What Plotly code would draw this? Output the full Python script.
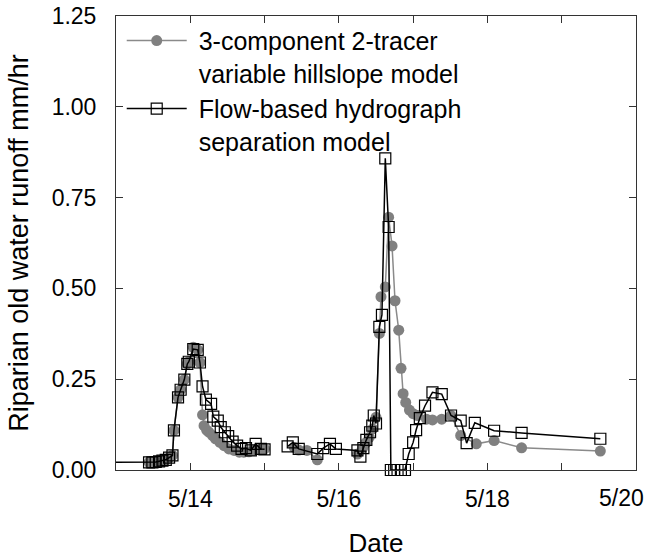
import plotly.graph_objects as go

# Day of May (fractional) and runoff (mm/hr)
hill_x = [13.445, 13.49, 13.535, 13.58, 13.625, 13.67, 13.715, 13.76,
          13.78, 13.835, 13.87, 13.92, 13.96, 13.98, 14.04, 14.10, 14.13,
          14.165, 14.185, 14.22, 14.25, 14.30, 14.34, 14.40, 14.455, 14.52,
          14.59, 14.66, 14.72, 14.79, 14.86, 14.92, 15.00,
          15.20,
          15.40, 15.46, 15.57, 15.71,
          16.00,
          16.25, 16.32, 16.365, 16.41, 16.455, 16.50,
          16.545, 16.567, 16.625, 16.67, 16.716, 16.756, 16.806, 16.837,
          16.865, 16.90, 16.95, 17.00, 17.06, 17.18, 17.26, 17.385,
          17.51, 17.64, 17.85, 18.09, 18.46, 19.52]
hill_y = [0.021, 0.021, 0.022, 0.024, 0.026, 0.028, 0.034, 0.040,
          0.109, 0.200, 0.221, 0.249, 0.292, 0.298, 0.338, 0.331, 0.296,
          0.152, 0.122, 0.110, 0.104, 0.095, 0.086, 0.076, 0.067, 0.058,
          0.054, 0.049, 0.049, 0.050, 0.054, 0.056, 0.058,
          None,
          0.062, 0.055, 0.054, 0.028,
          None,
          0.044, 0.060, 0.075, 0.090, 0.113, 0.145,
          0.376, 0.477, 0.504, 0.696, 0.617, 0.466, 0.385, 0.280,
          0.210, 0.186, 0.165, 0.155, 0.150, 0.140, 0.138, 0.140,
          0.150, 0.095, 0.072, 0.081, 0.061, 0.052]

flow_x = [12.0, 13.445, 13.49, 13.535, 13.58, 13.625, 13.67, 13.715, 13.76,
          13.78, 13.835, 13.87, 13.92, 13.96, 13.98, 14.04, 14.10, 14.13,
          14.165, 14.21, 14.28, 14.31, 14.37, 14.41, 14.465, 14.51, 14.57,
          14.63, 14.69, 14.75, 14.815, 14.88, 14.95, 15.00,
          15.15,
          15.31, 15.38, 15.46, 15.71, 15.79, 15.88, 15.96,
          16.25, 16.29, 16.33, 16.37, 16.42, 16.45, 16.47, 16.50,
          16.545, 16.58, 16.625, 16.67,
          16.70, 16.745, 16.79, 16.835, 16.89,
          16.94, 17.00, 17.04, 17.09, 17.16, 17.26, 17.385,
          17.51, 17.64, 17.72, 17.83, 18.09, 18.46, 19.52]
flow_y = [0.021, 0.021, 0.021, 0.022, 0.024, 0.026, 0.028, 0.034, 0.040,
          0.109, 0.200, 0.221, 0.249, 0.292, 0.298, 0.333, 0.331, 0.296,
          0.230, 0.194, 0.182, 0.147, 0.136, 0.118, 0.104, 0.093, 0.078,
          0.067, 0.058, 0.060, 0.054, 0.072, 0.058, 0.057,
          None,
          0.065, 0.076, 0.058, 0.044, 0.060, 0.072, 0.058,
          0.054, 0.037, 0.060, 0.083, 0.104, 0.122, 0.150, 0.128,
          0.394, 0.427, 0.858, 0.669,
          0.0, 0.0, 0.0, 0.0, 0.0,
          0.044, 0.076, 0.110, 0.143, 0.177, 0.214, 0.209,
          0.150, 0.136, 0.074, 0.130, 0.108, 0.102, 0.086]

tick_days = [13, 14, 15, 16, 17, 18, 19, 20]
tick_text = ["", "5/14", "", "5/16", "", "5/18", "", ""]
last_tick_label = "5/20"   # drawn at the right edge, kept inside the page
y_ticks = [0, 0.25, 0.5, 0.75, 1.0, 1.25]

FONT = "Liberation Sans, Arial, sans-serif"
PAD = "\u00a0"

fig = go.Figure()
fig.add_trace(go.Scatter(
    x=hill_x, y=hill_y, mode="lines+markers",
    name=PAD + "3-component 2-tracer<br>" + PAD + "variable hillslope model",
    line=dict(color="#8a8a8a", width=1.5),
    marker=dict(symbol="circle", size=11, color="#808080"),
    connectgaps=False,
))
fig.add_trace(go.Scatter(
    x=flow_x, y=flow_y, mode="lines+markers",
    name=PAD + "Flow-based hydrograph<br>" + PAD + "separation model",
    line=dict(color="black", width=1.5),
    marker=dict(symbol="square-open", size=11, color="black",
                line=dict(width=1.2, color="black")),
    connectgaps=False, cliponaxis=False,
))

fig.add_annotation(x=tick_days[-1], xref="x", y=0, yref="paper",
                   text=last_tick_label, showarrow=False,
                   xanchor="right", yanchor="middle",
                   xshift=10, yshift=-28, font=dict(size=23))

fig.update_layout(
    width=649, height=558,
    margin=dict(l=116, r=13, t=16, b=88, autoexpand=False),
    paper_bgcolor="white", plot_bgcolor="white",
    font=dict(family=FONT, size=23, color="black"),
    showlegend=True,
    legend=dict(x=0.011, y=0.996, xanchor="left", yanchor="top",
                bgcolor="rgba(0,0,0,0)", font=dict(size=25),
                valign="top", itemwidth=60, tracegroupgap=0),
    xaxis=dict(range=[13, 20], tickvals=tick_days, ticktext=tick_text,
               ticks="inside", ticklen=7, tickcolor="#333",
               showline=True, linecolor="#333", linewidth=1, mirror="ticks",
               showgrid=False, zeroline=False, automargin=False,
               ticklabelstandoff=8, ticklabeloverflow="allow",
               title=dict(text="Date", font=dict(size=26), standoff=30)),
    yaxis=dict(range=[0, 1.25], tickvals=y_ticks, tickformat=".2f",
               ticks="inside", ticklen=7, tickcolor="#333",
               showline=True, linecolor="#333", linewidth=1, mirror="ticks",
               showgrid=False, zeroline=False, automargin=False,
               ticklabelstandoff=14, ticklabeloverflow="allow",
               title=dict(text="Riparian old water runoff mm/hr",
                          font=dict(size=27), standoff=15)),
)

fig.write_html("out.html", config={"displayModeBar": False},
               post_script="document.body.style.margin='0';")
